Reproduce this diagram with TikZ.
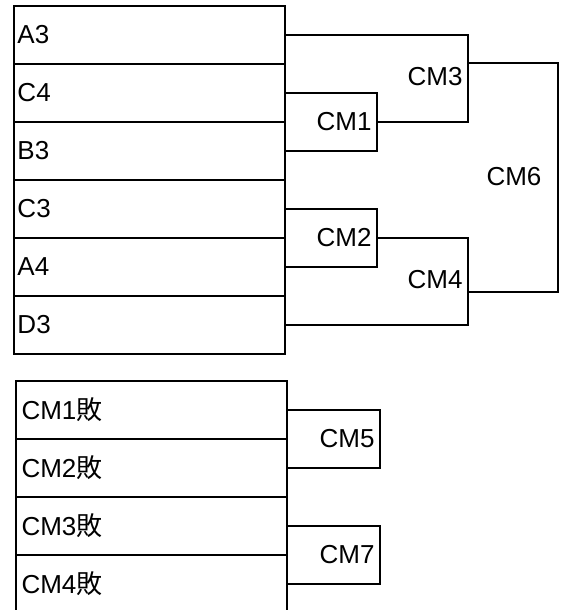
\documentclass[tikz,border=0pt]{standalone}
\usepackage{fontspec}
\setmainfont{Liberation Sans}
\newfontfamily\cjk{Noto Sans CJK JP}
\newcommand{\defeat}{{\cjk 敗}}

\begin{document}
\begin{tikzpicture}[x=0.5pt,y=-0.5pt,
  row/.style={draw,line width=1pt,minimum width=135.5pt,minimum height=29pt,
    text width=132pt,align=left,inner xsep=0pt,font=\fontsize{13}{15}\selectfont},
  lossrow/.style={row,text width=130pt},
  wire/.style={draw=black,line width=1pt},
  tag/.style={font=\fontsize{13}{15}\selectfont,inner xsep=2.5pt},
]
\useasboundingbox (0,0) rectangle (562,610);
\clip (0,0) rectangle (562,610);
% first round
\foreach \name/\txt [count=\i] in {a3/A3,c4/C4,b3/B3,c3/C3,a4/A4,d3/D3}
  \node[row] (\name) at (149.5,{58*\i-23}) {\txt};
\coordinate (cm1) at (377,122);
\coordinate (cm2) at (377,238);
\coordinate (cm3) at (468,63);
\coordinate (cm4) at (468,292);
\coordinate (cm6) at (558,177);
\draw[wire] (c4.east) -| (cm1) |- (b3.east);
\draw[wire] (c3.east) -| (cm2) |- (a4.east);
\draw[wire] (a3.east) -| (cm3) |- (cm1);
\draw[wire] (cm2) -| (cm4) |- (d3.east);
\draw[wire] (cm3) -| (cm6) |- (cm4);
\node[tag,left] (t1) at (cm1) {CM1};
\node[tag,left] (t2) at (cm2) {CM2};
\node[tag,left] (t3) at (468,77) {CM3};
\node[tag,left] (t4) at (468,280) {CM4};
\node[tag] (t6) at (514,177) {CM6};
% losers
\foreach \name/\txt [count=\i] in {l1/CM1\defeat,l2/CM2\defeat,l3/CM3\defeat,l4/CM4\defeat}
  \node[lossrow] (\name) at (151.5,{58*\i+352}) {\txt};
\coordinate (cm5) at (380,439);
\coordinate (cm7) at (380,555);
\draw[wire] (l1.east) -| (cm5) |- (l2.east);
\draw[wire] (l3.east) -| (cm7) |- (l4.east);
\node[tag,left] (t5) at (cm5) {CM5};
\node[tag,left] (t7) at (cm7) {CM7};
\end{tikzpicture}
\end{document}
